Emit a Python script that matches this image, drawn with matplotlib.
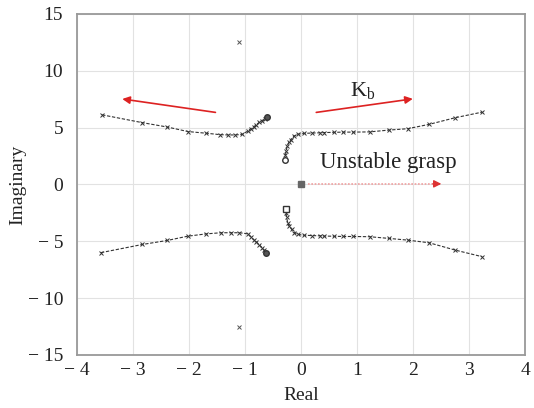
import matplotlib
matplotlib.use("Agg")
import matplotlib.pyplot as plt

# root locus branches
ul_x = [-3.55, -2.83, -2.39, -2.02, -1.69, -1.45, -1.30, -1.18, -1.05, -0.95,
        -0.90, -0.85, -0.80, -0.75, -0.70, -0.65, -0.61]
ul_y = [6.12, 5.43, 5.05, 4.65, 4.50, 4.38, 4.35, 4.35, 4.40, 4.70,
        4.90, 5.05, 5.25, 5.45, 5.60, 5.78, 5.95]
ll_x = [-3.57, -2.83, -2.39, -2.02, -1.69, -1.43, -1.25, -1.10, -0.95, -0.90,
        -0.85, -0.80, -0.75, -0.70, -0.66, -0.62]
ll_y = [-6.00, -5.28, -4.93, -4.55, -4.35, -4.25, -4.25, -4.25, -4.35, -4.60,
        -4.85, -5.05, -5.30, -5.55, -5.80, -6.00]
ur_x = [-0.28, -0.28, -0.27, -0.25, -0.22, -0.18, -0.13, -0.05, 0.05, 0.20,
        0.34, 0.40, 0.58, 0.75, 0.93, 1.22, 1.57, 1.90, 2.28, 2.75, 3.23]
ur_y = [2.15, 2.55, 2.90, 3.37, 3.70, 3.95, 4.25, 4.42, 4.49, 4.52,
        4.54, 4.56, 4.58, 4.60, 4.60, 4.62, 4.78, 4.90, 5.28, 5.87, 6.36]
lr_x = [-0.27, -0.27, -0.26, -0.24, -0.21, -0.17, -0.12, -0.05, 0.05, 0.20,
        0.34, 0.40, 0.58, 0.75, 0.93, 1.22, 1.57, 1.90, 2.28, 2.75, 3.23]
lr_y = [-2.15, -2.55, -2.90, -3.37, -3.70, -3.95, -4.25, -4.40, -4.47, -4.50,
        -4.52, -4.54, -4.56, -4.58, -4.58, -4.60, -4.75, -4.90, -5.13, -5.78, -6.36]
poles_x = [-1.1, -1.1]
poles_y = [12.5, -12.5]

xticks = [-4, -3, -2, -1, 0, 1, 2, 3, 4]
yticks = [-15, -10, -5, 0, 5, 10, 15]

plt.rcParams["font.family"] = ["Liberation Serif", "DejaVu Serif"]
plt.rcParams["mathtext.fontset"] = "custom"
plt.rcParams["mathtext.rm"] = "Liberation Serif"
plt.rcParams["mathtext.it"] = "Liberation Serif:italic"

fig = plt.figure(figsize=(5.34, 4.08), dpi=100)
ax = fig.add_axes([0.144, 0.130, 0.840, 0.836])

line_kw = dict(color="#333333", lw=0.8, ls=(0, (3, 1.5)), marker="x", ms=3, mew=0.7)
for xs, ys in [(ul_x, ul_y), (ll_x, ll_y), (ur_x, ur_y), (lr_x, lr_y)]:
    ax.plot(xs, ys, **line_kw)

# branch end points
ax.plot([ul_x[-1], ll_x[-1]], [ul_y[-1], ll_y[-1]], "o", ms=4, mfc="#555555", mec="#333333")
ax.plot([ur_x[0]], [ur_y[0]], "o", ms=4, mfc="white", mec="#333333")
ax.plot([lr_x[0]], [lr_y[0]], "s", ms=4, mfc="white", mec="#333333")
ax.plot(poles_x, poles_y, "x", ms=3.5, mew=0.7, color="#555555")
ax.plot([0], [0], "s", ms=5, color="#666666")

# red arrows
arrow = dict(arrowstyle="-|>", color="#dd2222", lw=1.2, mutation_scale=11)
ax.annotate("", xy=(-3.24, 7.55), xytext=(-1.48, 6.3), arrowprops=arrow)
ax.annotate("", xy=(2.04, 7.56), xytext=(0.22, 6.3), arrowprops=arrow)
ax.plot([0.12, 2.4], [0.05, 0.05], color="#f0a0a0", lw=1.2, ls=(0, (1, 1)))
ax.annotate("", xy=(2.55, 0.05), xytext=(2.3, 0.05),
            arrowprops=dict(arrowstyle="-|>", color="#dd3333", lw=1, mutation_scale=11))

ax.text(1.1, 8.3, r"$\mathrm{K}_\mathrm{b}$", fontsize=16, ha="center", va="center", color="#222222")
ax.text(1.55, 1.95, "Unstable grasp", fontsize=16.5, ha="center", va="center", color="#222222")

ax.set_xlim(-4, 4)
ax.set_ylim(-15, 15)
ax.set_xticks(xticks)
ax.set_yticks(yticks)
ax.set_xticklabels([("\u2212 %d" % -v) if v < 0 else str(v) for v in xticks])
ax.set_yticklabels([("\u2212 %d" % -v) if v < 0 else str(v) for v in yticks])
ax.tick_params(length=0, labelsize=14, colors="#222222")
ax.tick_params(axis="y", pad=10)
ax.tick_params(axis="x", pad=5)
ax.grid(True, color="#e2e2e2", lw=0.8)
ax.set_axisbelow(True)
for s in ax.spines.values():
    s.set_color("#999999")
    s.set_linewidth(1.3)

ax.set_xlabel("Real", fontsize=14, labelpad=6, color="#222222")
ax.set_ylabel("Imaginary", fontsize=14, labelpad=1, color="#222222")

fig.savefig("out.png", dpi=100)
